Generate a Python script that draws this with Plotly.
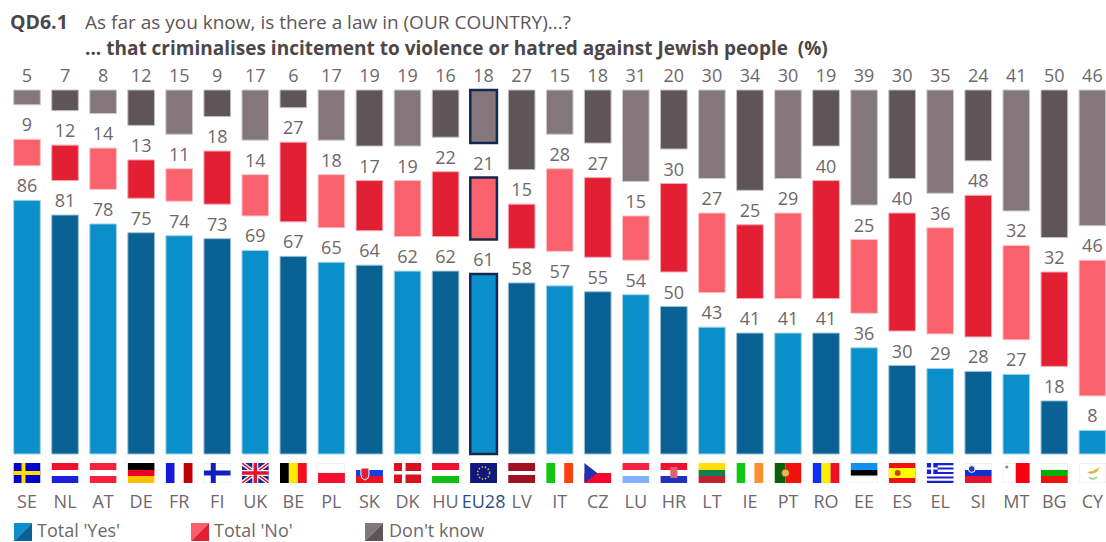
import base64
import plotly.graph_objects as go

countries = ["SE","NL","AT","DE","FR","FI","UK","BE","PL","SK","DK","HU","EU28","LV","IT",
             "CZ","LU","HR","LT","IE","PT","RO","EE","ES","EL","SI","MT","BG","CY"]
yes_vals = [86,81,78,75,74,73,69,67,65,64,62,62,61,58,57,55,54,50,43,41,41,41,36,30,29,28,27,18,8]
no_vals = [9,12,14,13,11,18,14,27,18,17,19,22,21,15,28,27,15,30,27,25,29,40,25,40,36,48,32,32,46]
dk_vals = [5,7,8,12,15,9,17,6,17,19,19,16,18,27,15,18,31,20,30,34,30,19,39,30,35,24,41,50,46]

W, H = 1106, 542
FONT = "Open Sans"
TXT = "#70676a"
NAVY = "#14284f"
X0, DX = 27, 38.05        # pixel of first category, pixel step
Y0, PXU = 454, 2.95       # pixel of value 0, pixels per unit
PLOT_BOTTOM = 484
GAP = 34.5 / PXU          # constant white gap between the three panels

PAL = {"yes": ("#0b8fca", "#0a6193"), "no": ("#f9616c", "#e31f33"), "dk": ("#84777b", "#5f5458")}
EDGE = {"yes": ("#a5d4ec", "#9cc0d6"), "no": ("#fcc3c8", "#f4a9b0"), "dk": ("#cfc9cb", "#c4bfc1")}
EU = countries.index("EU28")
idx = list(range(len(countries)))

FLAGS = {
 "SE": '<rect width="27" height="20" fill="#0000c8"/><rect x="8" width="4" height="20" fill="#ffe000"/><rect y="8" width="27" height="4" fill="#ffe000"/>',
 "NL": '<rect width="27" height="7" fill="#f01030"/><rect y="7" width="27" height="6" fill="#fff"/><rect y="13" width="27" height="7" fill="#1a20e0"/>',
 "AT": '<rect width="27" height="7" fill="#f8203c"/><rect y="7" width="27" height="6" fill="#fff"/><rect y="13" width="27" height="7" fill="#f8203c"/>',
 "DE": '<rect width="27" height="7" fill="#000"/><rect y="7" width="27" height="6" fill="#f00020"/><rect y="13" width="27" height="7" fill="#ffc000"/>',
 "FR": '<rect width="9" height="20" fill="#1818d8"/><rect x="9" width="9" height="20" fill="#fff"/><rect x="18" width="9" height="20" fill="#c00008"/>',
 "FI": '<rect width="27" height="20" fill="#fff" stroke="#e8e4e4"/><rect x="7" width="5" height="20" fill="#1020c0"/><rect y="7.5" width="27" height="5" fill="#1020c0"/>',
 "UK": '<rect width="27" height="20" fill="#1a2a90"/><path d="M0 0L27 20M27 0L0 20" stroke="#fff" stroke-width="4"/><path d="M0 0L27 20M27 0L0 20" stroke="#e01030" stroke-width="1.5"/><path d="M13.5 0V20M0 10H27" stroke="#fff" stroke-width="6"/><path d="M13.5 0V20M0 10H27" stroke="#e01030" stroke-width="3.5"/>',
 "BE": '<rect width="9" height="20" fill="#000"/><rect x="9" width="9" height="20" fill="#ffe800"/><rect x="18" width="9" height="20" fill="#f01020"/>',
 "PL": '<rect width="27" height="10" fill="#fff" stroke="#e8e4e4"/><rect y="10" width="27" height="10" fill="#f01030"/>',
 "SK": '<rect width="27" height="7" fill="#fff"/><rect y="7" width="27" height="6" fill="#1040e0"/><rect y="13" width="27" height="7" fill="#f01020"/><path d="M5 5H13V12Q13 16 9 17Q5 16 5 12Z" fill="#e02030" stroke="#fff"/>',
 "DK": '<rect width="27" height="20" fill="#d81020"/><rect x="8" width="3.5" height="20" fill="#fff"/><rect y="8" width="27" height="3.5" fill="#fff"/>',
 "HU": '<rect width="27" height="7" fill="#f01030"/><rect y="7" width="27" height="6" fill="#fff"/><rect y="13" width="27" height="7" fill="#10c010"/>',
 "EU28": '<rect width="27" height="20" fill="#101880"/><circle cx="13.5" cy="10" r="6" fill="none" stroke="#d8c020" stroke-width="1.6" stroke-dasharray="1.4 1.8"/>',
 "LV": '<rect width="27" height="8" fill="#a01020"/><rect y="8" width="27" height="4" fill="#fff"/><rect y="12" width="27" height="8" fill="#a01020"/>',
 "IT": '<rect width="9" height="20" fill="#10c810"/><rect x="9" width="9" height="20" fill="#fff"/><rect x="18" width="9" height="20" fill="#ff4010"/>',
 "CZ": '<rect width="27" height="10" fill="#fff"/><rect y="10" width="27" height="10" fill="#f80030"/><path d="M0 0L13 10L0 20Z" fill="#2030b0"/>',
 "LU": '<rect width="27" height="7" fill="#f82040"/><rect y="7" width="27" height="6" fill="#fff"/><rect y="13" width="27" height="7" fill="#80b0ff"/>',
 "HR": '<rect width="27" height="7" fill="#f01030"/><rect y="7" width="27" height="6" fill="#fff"/><rect y="13" width="27" height="7" fill="#2030c0"/><rect x="10" y="4" width="7" height="11" fill="#e06070"/>',
 "LT": '<rect width="27" height="7" fill="#ffe000"/><rect y="7" width="27" height="6" fill="#108050"/><rect y="13" width="27" height="7" fill="#c02030"/>',
 "IE": '<rect width="9" height="20" fill="#10c810"/><rect x="9" width="9" height="20" fill="#fff"/><rect x="18" width="9" height="20" fill="#ff9030"/>',
 "PT": '<rect width="11" height="20" fill="#086008"/><rect x="11" width="16" height="20" fill="#f01010"/><circle cx="11" cy="10" r="4" fill="#e0c040" stroke="#a04020"/>',
 "RO": '<rect width="9" height="20" fill="#1030f0"/><rect x="9" width="9" height="20" fill="#fff000"/><rect x="18" width="9" height="20" fill="#f01020"/>',
 "EE": '<rect width="27" height="7" fill="#1090f0"/><rect y="7" width="27" height="6" fill="#000"/><rect y="13" width="27" height="7" fill="#fff" stroke="#e8e4e4"/>',
 "ES": '<rect width="27" height="20" fill="#f01010"/><rect y="5" width="27" height="10" fill="#ffff00"/><circle cx="9" cy="10" r="3" fill="#d04020"/>',
 "EL": '<rect width="27" height="20" fill="#fff"/><path d="M0 1.1H27M0 5.5H27M0 10H27M0 14.5H27M0 18.9H27" stroke="#1820d0" stroke-width="2.2"/><rect width="11" height="11" fill="#1820d0"/><path d="M5.5 0V11M0 5.5H11" stroke="#fff" stroke-width="2.2"/>',
 "SI": '<rect width="27" height="7" fill="#fff" stroke="#e8e4e4"/><rect y="7" width="27" height="6" fill="#1030d0"/><rect y="13" width="27" height="7" fill="#e81030"/><circle cx="7" cy="6" r="3.4" fill="#2040c0" stroke="#fff"/>',
 "MT": '<rect width="13" height="20" fill="#fff" stroke="#e8e4e4"/><rect x="13" width="14" height="20" fill="#f80010"/><circle cx="4" cy="4" r="1.6" fill="#888"/>',
 "BG": '<rect width="27" height="7" fill="#fff" stroke="#e8e4e4"/><rect y="7" width="27" height="6" fill="#00b000"/><rect y="13" width="27" height="7" fill="#f01010"/>',
 "CY": '<rect width="27" height="20" fill="#fff" stroke="#e8e4e4"/><path d="M8 9L14 8L21 4L18 9L12 11Z" fill="#f0b030"/><path d="M10 14Q14 18 18 14" fill="none" stroke="#90d090" stroke-width="1.5"/>',
}


def colours(table, key):
    out = []
    for i in idx:
        out.append(table[key][i % 2])
    return out


def panel(name, key, vals, bases):
    line_c = colours(EDGE, key)
    line_w = [1] * len(vals)
    line_c[EU] = NAVY
    line_w[EU] = 2.5
    return go.Bar(
        x=idx, y=vals, base=bases, name=name, width=0.7,
        marker=dict(color=colours(PAL, key), line=dict(color=line_c, width=line_w)),
        text=[str(v) for v in vals], textposition="outside", textangle=0,
        constraintext="none", cliponaxis=False,
        textfont=dict(family=FONT, size=18, color=TXT),
        showlegend=False, hoverinfo="x+y",
    )


base_yes = [0] * len(idx)
base_no = [y + GAP for y in yes_vals]
base_dk = [y + n + 2 * GAP for y, n in zip(yes_vals, no_vals)]

fig = go.Figure([
    panel("Total 'Yes'", "yes", yes_vals, base_yes),
    panel("Total 'No'", "no", no_vals, base_no),
    panel("Don't know", "dk", dk_vals, base_dk),
])

ticks = [f'<span style="color:#2d4f80">{c}</span>' if c == "EU28" else c for c in countries]
fig.update_xaxes(
    range=[-X0 / DX, (W - X0) / DX], tickmode="array", tickvals=idx, ticktext=ticks,
    showgrid=False, zeroline=False, showline=False, ticks="outside", ticklen=1,
    tickcolor="rgba(0,0,0,0)", tickfont=dict(family=FONT, size=18, color=TXT),
    fixedrange=True, tickangle=0,
)
fig.update_yaxes(
    range=[-(PLOT_BOTTOM - Y0) / PXU, Y0 / PXU], visible=False, fixedrange=True,
)

images = []
for i, c in zip(idx, countries):
    svg = f'<svg xmlns="http://www.w3.org/2000/svg" viewBox="0 0 27 20" width="270" height="200" preserveAspectRatio="none">{FLAGS[c]}</svg>'
    src = "data:image/svg+xml;base64," + base64.b64encode(svg.encode()).decode()
    images.append(dict(source=src, xref="x", yref="paper", x=i, y=(PLOT_BOTTOM - 463) / PLOT_BOTTOM,
                       sizex=27 / DX, sizey=20 / PLOT_BOTTOM, xanchor="center", yanchor="top",
                       sizing="stretch", layer="above"))

annots = []


def txt(x, y, s, size=17, color=TXT):
    annots.append(dict(xref="paper", yref="paper", x=x / W, y=(PLOT_BOTTOM - y) / PLOT_BOTTOM, text=s,
                       showarrow=False, xanchor="left", yanchor="middle", borderpad=0, borderwidth=0,
                       font=dict(family=FONT, size=size, color=color)))


txt(10, 22, "<b>QD6.1</b>", 19.5, "#4d4649")
txt(85, 22, "As far as you know, is there a law in (OUR COUNTRY)...?", 19, "#5e5659")
txt(85, 48, "<b>... that criminalises incitement to violence or hatred against Jewish people  (%)</b>", 19, "#4d4649")

shapes = []
LEG = [("yes", 14, 37, "Total 'Yes'"), ("no", 191, 214, "Total 'No'"), ("dk", 365, 389, "Don't know")]
ty0, ty1 = 523, 541


def py(v):
    return (PLOT_BOTTOM - v) / PLOT_BOTTOM


for key, sx, tx, label in LEG:
    s0, s1 = sx, sx + 18
    pa = f"M {s0/W} {py(ty0)} L {s1/W} {py(ty0)} L {s0/W} {py(ty1)} Z"
    pb = f"M {s1/W} {py(ty0)} L {s1/W} {py(ty1)} L {s0/W} {py(ty1)} Z"
    shapes.append(dict(type="path", xref="paper", yref="paper", path=pa, fillcolor=PAL[key][0], line=dict(width=0)))
    shapes.append(dict(type="path", xref="paper", yref="paper", path=pb, fillcolor=PAL[key][1], line=dict(width=0)))
    txt(tx, 529.5, label, 18)

fig.update_layout(
    width=W, height=H, barmode="overlay", paper_bgcolor="white", plot_bgcolor="white",
    margin=dict(l=0, r=0, t=0, b=H - PLOT_BOTTOM, pad=0),
    images=images, annotations=annots, shapes=shapes, bargap=0.3,
    font=dict(family=FONT, color=TXT),
)
fig.write_html("out.html", config={"displayModeBar": False},
               post_script="document.body.style.margin='0';document.body.style.overflow='hidden';")
